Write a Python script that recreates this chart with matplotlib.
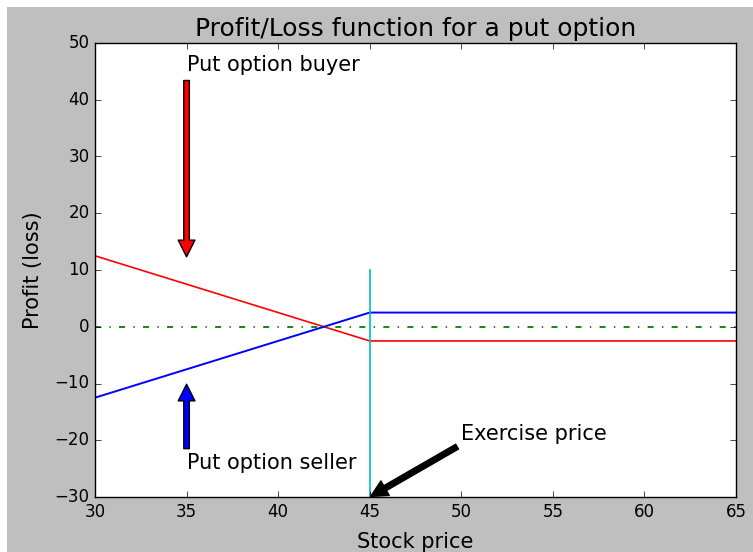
import numpy as np
import matplotlib
matplotlib.use("Agg")
import matplotlib.pyplot as plt
from matplotlib.patches import Rectangle

plt.style.use("classic")

# Put option parameters
strike = 45.0
premium = 2.5
price_range = [30, 65]
s = np.arange(price_range[0], price_range[1] + 1, 1.0)

buyer = np.maximum(strike - s, 0) - premium
seller = -buyer
zero = np.zeros_like(s)

W, H = 753, 552
fig = plt.figure(figsize=(W / 100, H / 100), dpi=100, facecolor="white")
# grey panel behind the axes
fig.patches.append(Rectangle((7 / W, 0), 1 - 7 / W, 1 - 7 / H,
                             transform=fig.transFigure, facecolor="#bfbfbf",
                             edgecolor="none", zorder=-1))

ax = fig.add_axes([95 / W, 1 - 497 / H, (736 - 95) / W, (497 - 43) / H])
ax.set_xlim(30, 65)
ax.set_ylim(-30, 50)

ax.plot(s, buyer, "r-", lw=1.2)
ax.plot(s, seller, "b-", lw=1.4)
ax.plot(s, zero, "g-.", lw=1.3, dashes=(4.3, 6, 1, 6))
ax.plot([strike, strike], [-30, 10], "c-", lw=1.2)

ax.set_title("Profit/Loss function for a put option", fontsize=18)
ax.set_xlabel("Stock price", fontsize=15, labelpad=8)
ax.set_ylabel("Profit (loss)", fontsize=15, labelpad=8.5)

ax.annotate("Put option buyer", xy=(35, 12), xytext=(35, 45), fontsize=15,
            arrowprops=dict(facecolor="red", shrink=0.01))
ax.annotate("Put option seller", xy=(35, -10), xytext=(35, -25), fontsize=15,
            arrowprops=dict(facecolor="blue", shrink=0.01))
ax.annotate("Exercise price", xy=(45, -30), xytext=(50, -20), fontsize=15,
            arrowprops=dict(facecolor="black", shrink=0.01))

fig.savefig("out.png", dpi=100, facecolor=fig.get_facecolor())
